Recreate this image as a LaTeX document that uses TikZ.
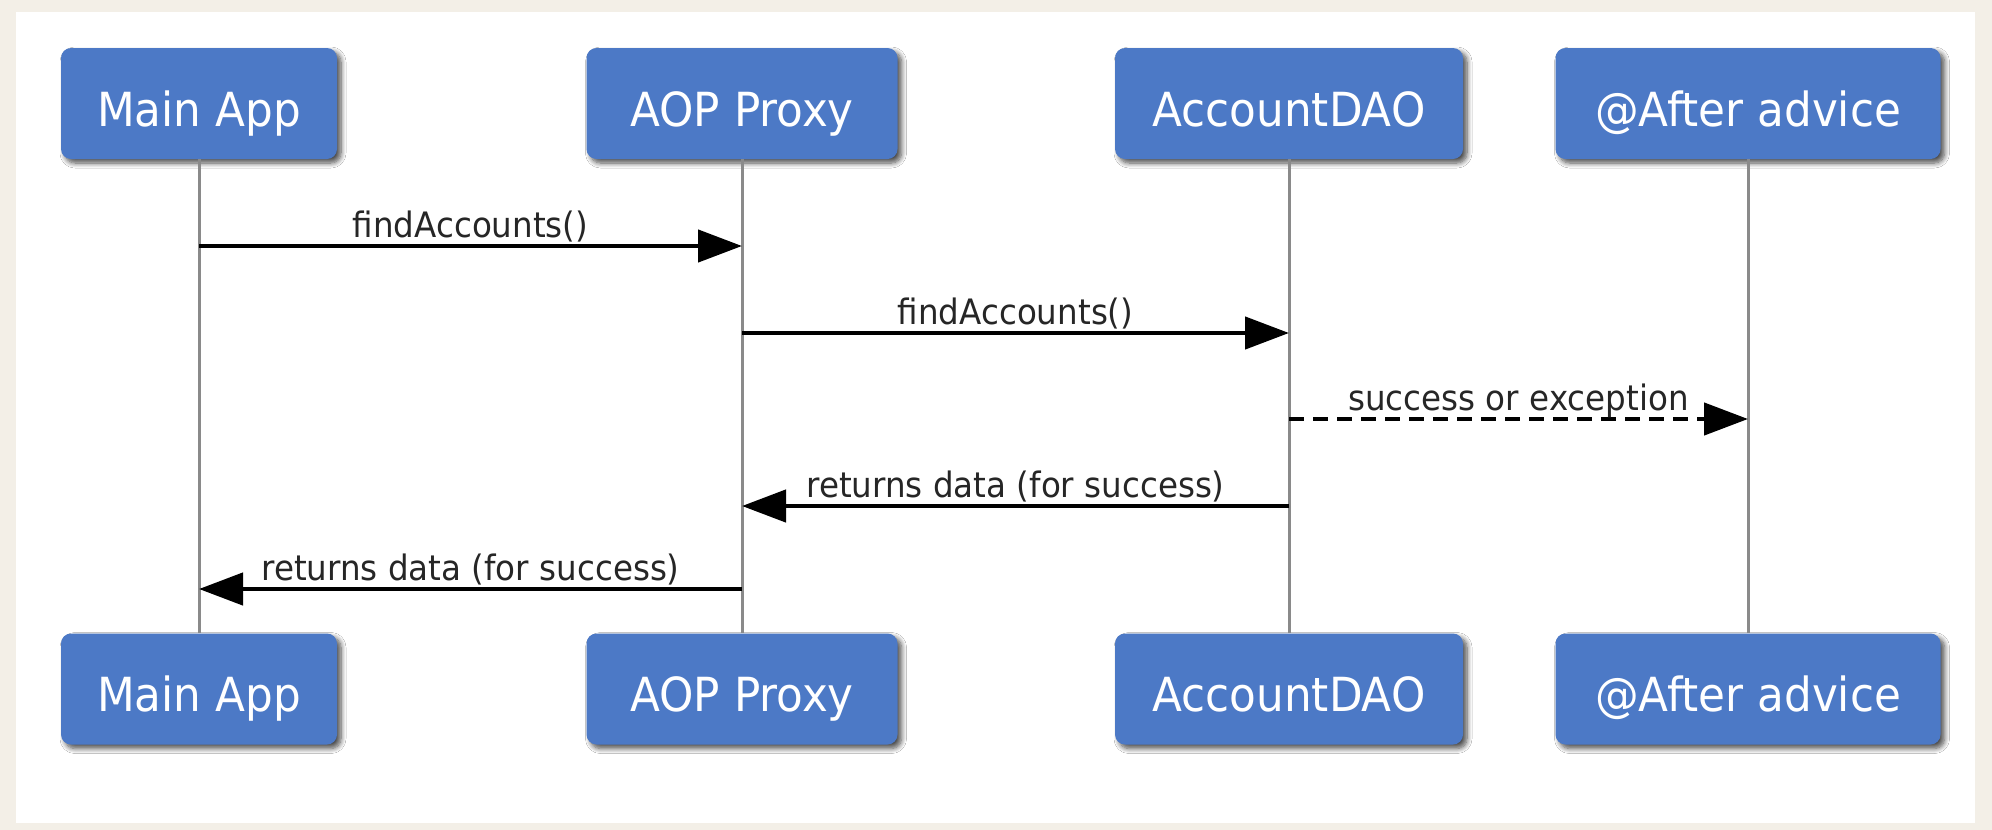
\documentclass[tikz,border=0pt]{standalone}
\usepackage{fontspec}
\setmainfont{DejaVu Sans}
\usetikzlibrary{arrows.meta,shadows.blur}
\definecolor{bg}{HTML}{F3EFE7}
\definecolor{boxblue}{HTML}{4C79C6}
\definecolor{life}{HTML}{8A8A8A}
\tikzset{
 actor/.style={rounded corners=10pt, fill=boxblue, text=white, minimum height=111pt, inner sep=0pt,
   text height=45pt, text depth=0pt,
   font=\fontsize{47}{50}\selectfont,
   blur shadow={shadow xshift=4pt,shadow yshift=-4pt,shadow blur radius=5pt,shadow blur steps=8,shadow opacity=70}},
 lifeline/.style={draw=life, line width=3pt},
 msg/.style={line width=4.5pt, -{Triangle[length=44pt,width=32pt]}},
 dmsg/.style={msg, dash pattern=on 15pt off 9pt},
 msglabel/.style={anchor=base, inner sep=0pt, font=\fontsize{35}{38}\selectfont, text=black!85},
}
\newcommand{\sqz}[1]{\scalebox{0.93}[1]{#1}}
\begin{document}
\begin{tikzpicture}[x=1pt,y=-1pt]
\fill[bg] (0,0) rectangle (1992,830);
\fill[white] (16,12) rectangle (1975,823);
\useasboundingbox (0,0) rectangle (1992,830);

% top actors
\node[actor, minimum width=276pt] (mainT)  at (199,103.5)  {\sqz{Main App}};
\node[actor, minimum width=311pt] (proxyT) at (742,103.5)  {\sqz{AOP Proxy}};
\node[actor, minimum width=348pt] (daoT)   at (1289,103.5) {\sqz{AccountDAO}};
\node[actor, minimum width=385pt] (afterT) at (1748,103.5) {\sqz{@After advice}};
% bottom actors
\node[actor, minimum width=276pt] (mainB)  at (199,689)  {\sqz{Main App}};
\node[actor, minimum width=311pt] (proxyB) at (742,689)  {\sqz{AOP Proxy}};
\node[actor, minimum width=348pt] (daoB)   at (1289,689) {\sqz{AccountDAO}};
\node[actor, minimum width=385pt] (afterB) at (1748,689) {\sqz{@After advice}};

% lifelines
\draw[lifeline] (mainT.south)  -- (mainB.north);
\draw[lifeline] (proxyT.south) -- (proxyB.north);
\draw[lifeline] (daoT.south)   -- (daoB.north);
\draw[lifeline] (afterT.south) -- (afterB.north);

% message anchor points
\coordinate (m1) at (mainT.south |- 0,246);
\coordinate (p1) at (proxyT.south |- 0,246);
\coordinate (p2) at (proxyT.south |- 0,333);
\coordinate (d2) at (daoT.south |- 0,333);
\coordinate (d3) at (daoT.south |- 0,419);
\coordinate (a3) at (afterT.south |- 0,419);
\coordinate (d4) at (daoT.south |- 0,506);
\coordinate (p4) at (proxyT.south |- 0,506);
\coordinate (p5) at (proxyT.south |- 0,589);
\coordinate (m5) at (mainT.south |- 0,589);

\draw[msg] (m1) -- (p1) node[msglabel, pos=0.5, yshift=9pt] (l1) {\sqz{findAccounts()}};
\draw[msg] (p2) -- (d2) node[msglabel, pos=0.5, yshift=9pt] (l2) {\sqz{findAccounts()}};
\draw[dmsg] (d3) -- (a3) node[msglabel, pos=0.5, yshift=9pt] (l3) {\sqz{success or exception}};
\draw[msg] (d4) -- (p4) node[msglabel, pos=0.5, yshift=9pt] (l4) {\sqz{returns data (for success)}};
\draw[msg] (p5) -- (m5) node[msglabel, pos=0.5, yshift=9pt] (l5) {\sqz{returns data (for success)}};
\end{tikzpicture}
\end{document}
